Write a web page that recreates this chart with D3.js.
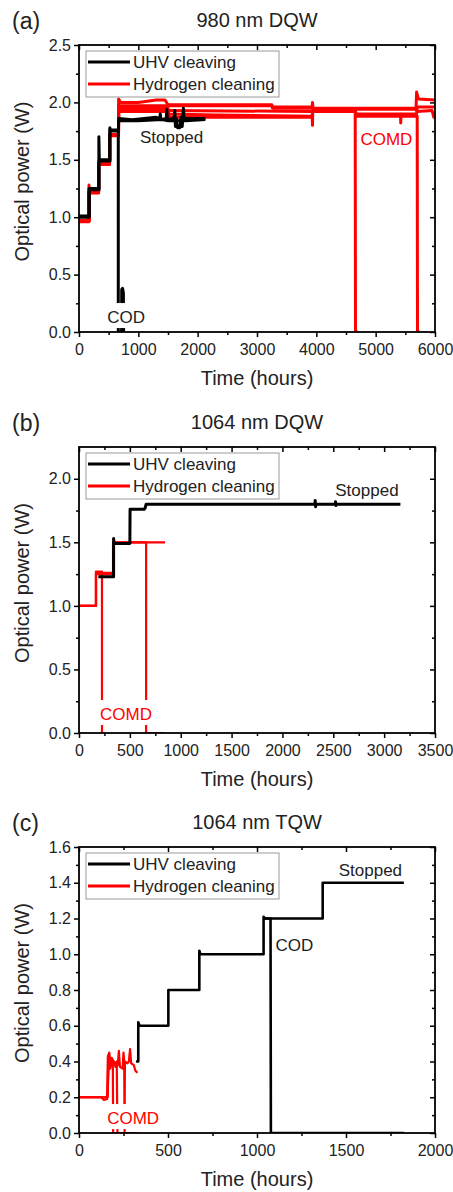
<!DOCTYPE html>
<html><head><meta charset="utf-8">
<script src="https://cdn.jsdelivr.net/npm/d3@7"></script>
<style>
body{margin:0;background:#fff;}
svg{display:block;font-family:"Liberation Sans",Arial,sans-serif;}
</style>
</head><body>
<svg id="chart" width="453" height="1192"></svg>
<script>
// ---------- DATA ----------
const panelLetters = ["(a)", "(b)", "(c)"];
const panelTitles = ["980 nm DQW", "1064 nm DQW", "1064 nm TQW"];
const seriesNames = ["UHV cleaving", "Hydrogen cleaning"];
const xLabel = "Time (hours)";
const yLabel = "Optical power (W)";

// tick values
const xTicksA = [0, 1000, 2000, 3000, 4000, 5000, 6000];
const xMinorA = [500, 1500, 2500, 3500, 4500, 5500];
const yTicksA = [0, 0.5, 1.0, 1.5, 2.0, 2.5];
const yMinorA = [0.25, 0.75, 1.25, 1.75, 2.25];
const xTicksB = [0, 500, 1000, 1500, 2000, 2500, 3000, 3500];
const xMinorB = [250, 750, 1250, 1750, 2250, 2750, 3250];
const yTicksB = [0, 0.5, 1.0, 1.5, 2.0];
const yMinorB = [0.25, 0.75, 1.25, 1.75];
const xTicksC = [0, 500, 1000, 1500, 2000];
const xMinorC = [250, 750, 1250, 1750];
const yTicksC = [0, 0.2, 0.4, 0.6, 0.8, 1.0, 1.2, 1.4, 1.6];
const yMinorC = [0.1, 0.3, 0.5, 0.7, 0.9, 1.1, 1.3, 1.5];

// panel (a) 980 nm DQW : [hours, W] per device
const aUHV = [
  [[0,1.0],[170,1.0],[170,1.25],[335,1.25],[335,1.7],[342,1.5],[520,1.5],[520,1.78],[528,1.75],[662,1.75],[662,0],[718,0],[720,0.37],[735,0.38],[748,0.34],[752,0],[775,0]],
  [[0,1.01],[172,1.01],[172,1.24],[337,1.24],[337,1.49],[522,1.49],[522,1.76],[665,1.76],[668,1.86],[900,1.85],[1100,1.86],[1300,1.87],[1360,1.86],[1370,1.9],[1380,1.85],[1470,1.86],[1480,1.94],[1490,1.85],[1600,1.86],[1615,1.93],[1625,1.79],[1640,1.86],[1660,1.78],[1700,1.78],[1720,1.87],[1740,1.79],[1760,1.95],[1770,1.86],[1800,1.86],[2000,1.86],[2130,1.86]],
  [[668,1.84],[1000,1.84],[1400,1.85],[1500,1.84],[1800,1.84],[2130,1.85]]
];
const aH2 = [
  [[0,0.97],[168,0.97],[168,1.28],[172,1.22],[330,1.22],[330,1.47],[515,1.47],[515,1.72],[666,1.72],[668,1.97],[1000,1.97],[1500,1.97],[2300,1.97],[3250,1.97],[3260,1.95],[3930,1.95],[4000,1.94],[4655,1.94],[4660,0],[4700,0]],
  [[0,0.96],[168,0.96],[168,1.21],[330,1.21],[330,1.46],[515,1.46],[515,1.71],[666,1.71],[668,1.92],[1500,1.92],[1520,1.9],[2300,1.89],[3930,1.88],[3935,1.80],[3940,1.93],[4660,1.93],[4670,1.88],[5700,1.88],[5705,0],[5745,0]],
  [[0,0.97],[168,0.97],[168,1.22],[330,1.22],[330,1.47],[515,1.47],[515,1.72],[666,1.72],[668,2.03],[700,2.0],[1000,2.0],[1300,2.02],[1450,2.02],[1500,1.98],[3250,1.98],[3260,1.96],[3930,1.96],[3935,2.0],[3945,1.95],[5680,1.95],[5690,2.09],[5705,2.06],[5720,2.03],[6000,2.02]],
  [[0,0.97],[168,0.97],[168,1.22],[330,1.22],[330,1.47],[515,1.47],[515,1.72],[666,1.72],[668,1.95],[1500,1.95],[1520,1.87],[2300,1.87],[3930,1.87],[3935,1.92],[4660,1.92],[4670,1.90],[5420,1.90],[5422,1.82],[5428,1.90],[5690,1.90],[5700,1.96],[6000,1.96]],
  [[0,0.97],[168,0.97],[168,1.22],[330,1.22],[330,1.47],[515,1.47],[515,1.72],[666,1.72],[668,1.94],[1500,1.93],[3930,1.92],[4660,1.94],[5690,1.94],[5700,1.92],[5950,1.93],[5980,1.87],[6000,1.87]]
];
// [text, hours, W, series (0 = UHV, 1 = hydrogen), masks lines]
const aNotes = [["Stopped",1561,1.646,0,false],["COD",793,0.078,0,true],["COMD",5181,1.625,1,true]];

// panel (b) 1064 nm DQW
const bUHV = [
  [[190,1.23],[340,1.23],[340,1.53],[346,1.49],[500,1.49],[502,1.76],[640,1.76],[650,1.77],[660,1.8],[2320,1.8],[2322,1.83],[2326,1.78],[2330,1.8],[2520,1.8],[2522,1.82],[2526,1.79],[2530,1.8],[3160,1.8]]
];
const bH2 = [
  [[0,1.0],[167,1.0],[167,1.27],[226,1.27],[226,0],[252,0]],
  [[0,1.0],[167,1.0],[167,1.26],[335,1.26],[335,1.5],[660,1.5],[660,0],[835,0]],
  [[0,1.0],[167,1.0],[167,1.25],[335,1.25],[335,1.5],[846,1.5]]
];
const bNotes = [["Stopped",2831,1.866,0,false],["COMD",462,0.102,1,true]];

// panel (c) 1064 nm TQW
const cUHV = [
  [[320,0.4],[333,0.4],[333,0.62],[340,0.6],[502,0.6],[502,0.8],[676,0.8],[676,1.02],[682,1.0],[1037,1.0],[1037,1.21],[1043,1.2],[1369,1.2],[1369,1.4],[1825,1.4]],
  [[1040,1.2],[1076,1.2],[1078,0],[1825,0]]
];
const cH2 = [
  [[0,0.2],[125,0.2],[140,0.185],[158,0.19],[162,0.43],[170,0.45],[178,0.38],[184,0.42],[190,0.4],[192,0],[335,0]],
  [[0,0.2],[160,0.2],[165,0.42],[175,0.36],[190,0.41],[200,0.39],[212,0.40],[216,0],[230,0]],
  [[0,0.2],[160,0.2],[168,0.40],[195,0.40],[205,0.37],[218,0.38],[224,0.46],[230,0.37],[245,0.36],[250,0.45],[254,0.40],[256,0],[258,0.40],[272,0.39],[280,0.40],[287,0.47],[293,0.39],[308,0.38],[316,0.35],[325,0.34],[330,0.34]]
];
const cNotes = [["Stopped",1637,1.438,0,false],["COD",1210,1.018,0,false],["COMD",304,0.050,1,true]];

// ---------- LAYOUT / STYLE ----------
const colors = ["#000000", "#ff0000"];
const panels = [
  {letter: panelLetters[0], title: panelTitles[0], xDom: [0, 6000], yDom: [0, 2.5],
   xT: xTicksA, xM: xMinorA, yT: yTicksA, yM: yMinorA, uhv: aUHV, h2: aH2, notes: aNotes,
   top: 45, bottom: 332, lw: [3, 3]},
  {letter: panelLetters[1], title: panelTitles[1], xDom: [0, 3500], yDom: [0, 2.25],
   xT: xTicksB, xM: xMinorB, yT: yTicksB, yM: yMinorB, uhv: bUHV, h2: bH2, notes: bNotes,
   top: 447, bottom: 733, lw: [3, 2.2]},
  {letter: panelLetters[2], title: panelTitles[2], xDom: [0, 2000], yDom: [0, 1.6],
   xT: xTicksC, xM: xMinorC, yT: yTicksC, yM: yMinorC, uhv: cUHV, h2: cH2, notes: cNotes,
   top: 847, bottom: 1133, lw: [2.6, 2.2]}
];
const left = 79, right = 435;
const textCol = "#222";

const svg = d3.select("#chart");

panels.forEach((p, i) => {
  const g = svg.append("g");
  const x = d3.scaleLinear().domain(p.xDom).range([left, right]);
  const y = d3.scaleLinear().domain(p.yDom).range([p.bottom, p.top]);

  // headers
  g.append("text").attr("x", 12).attr("y", p.top - 16)
    .attr("font-size", 23).attr("fill", textCol).text(p.letter);
  g.append("text").attr("x", 257).attr("y", p.top - 18).attr("text-anchor", "middle")
    .attr("font-size", 20).attr("fill", textCol).text(p.title);

  const clipId = "clip" + i;
  g.append("clipPath").attr("id", clipId).append("rect")
    .attr("x", left).attr("y", p.top).attr("width", right - left).attr("height", p.bottom - p.top);

  const line = d3.line().x(d => x(d[0])).y(d => y(d[1]));
  const lines = g.append("g").attr("clip-path", `url(#${clipId})`)
    .attr("fill", "none").attr("stroke-linejoin", "round").attr("stroke-linecap", "butt");
  [[p.h2, 1], [p.uhv, 0]].forEach(([set, s]) => {
    set.forEach(dev => {
      lines.append("path").attr("d", line(dev)).attr("stroke", colors[s]).attr("stroke-width", p.lw[s]);
    });
  });

  // annotations
  p.notes.forEach(n => {
    const t = g.append("text").attr("x", x(n[1])).attr("y", y(n[2])).attr("text-anchor", "middle")
      .attr("font-size", 17).attr("fill", n[3] === 0 ? textCol : colors[1]).text(n[0]);
    if (n[4]) {
      const bb = t.node().getBBox();
      g.insert("rect", () => t.node()).attr("x", bb.x - 1).attr("y", y(n[2]) - 20)
        .attr("width", bb.width + 2).attr("height", 25).attr("fill", "#fff");
    }
  });

  // axes
  const fmtY = d3.format(".1f");
  g.append("g").attr("transform", `translate(0,${p.bottom})`)
    .call(d3.axisBottom(x).tickValues(p.xT).tickSize(5).tickSizeOuter(0).tickPadding(7).tickFormat(d3.format("d")));
  g.append("g").attr("transform", `translate(0,${p.bottom})`)
    .call(d3.axisBottom(x).tickValues(p.xM).tickSize(3).tickSizeOuter(0).tickFormat(""));
  g.append("g").attr("transform", `translate(0,${p.top})`)
    .call(d3.axisTop(x).tickValues(p.xT).tickSize(-5).tickSizeOuter(0).tickFormat(""));
  g.append("g").attr("transform", `translate(0,${p.top})`)
    .call(d3.axisTop(x).tickValues(p.xM).tickSize(-3).tickSizeOuter(0).tickFormat(""));
  g.append("g").attr("transform", `translate(${left},0)`)
    .call(d3.axisLeft(y).tickValues(p.yT).tickSize(5).tickSizeOuter(0).tickPadding(3).tickFormat(fmtY));
  g.append("g").attr("transform", `translate(${left},0)`)
    .call(d3.axisLeft(y).tickValues(p.yM).tickSize(3).tickSizeOuter(0).tickFormat(""));
  g.append("g").attr("transform", `translate(${right},0)`)
    .call(d3.axisRight(y).tickValues(p.yT).tickSize(-5).tickSizeOuter(0).tickFormat(""));
  g.append("g").attr("transform", `translate(${right},0)`)
    .call(d3.axisRight(y).tickValues(p.yM).tickSize(-3).tickSizeOuter(0).tickFormat(""));
  g.selectAll(".domain").remove();
  g.selectAll(".tick line").attr("stroke", "#000").attr("stroke-width", 1.5);
  g.selectAll(".tick text").attr("font-size", 16).attr("fill", textCol)
    .attr("font-family", "'Liberation Sans', Arial, sans-serif");

  // frame
  g.append("rect").attr("x", left).attr("y", p.top).attr("width", right - left).attr("height", p.bottom - p.top)
    .attr("fill", "none").attr("stroke", "#000").attr("stroke-width", 1.8);

  // axis titles
  g.append("text").attr("x", (left + right) / 2).attr("y", p.bottom + 53).attr("text-anchor", "middle")
    .attr("font-size", 20).attr("fill", textCol).text(xLabel);
  g.append("text").attr("transform", `translate(29,${(p.top + p.bottom) / 2 - 7}) rotate(-90)`)
    .attr("text-anchor", "middle").attr("font-size", 20).attr("fill", textCol).text(yLabel);

  // legend
  const lx = left + 7, ly = p.top + 6;
  const lg = g.append("g");
  lg.append("rect").attr("x", lx).attr("y", ly).attr("width", 193).attr("height", 46)
    .attr("fill", "#fff").attr("stroke", "#999").attr("stroke-width", 1);
  seriesNames.forEach((nm, k) => {
    const yy = ly + 11 + k * 22;
    lg.append("line").attr("x1", lx + 2).attr("x2", lx + 44).attr("y1", yy).attr("y2", yy)
      .attr("stroke", colors[k]).attr("stroke-width", 3);
    lg.append("text").attr("x", lx + 47).attr("y", yy).attr("dy", "0.35em")
      .attr("font-size", 17).attr("fill", textCol).text(nm);
  });
});
</script>
</body></html>
